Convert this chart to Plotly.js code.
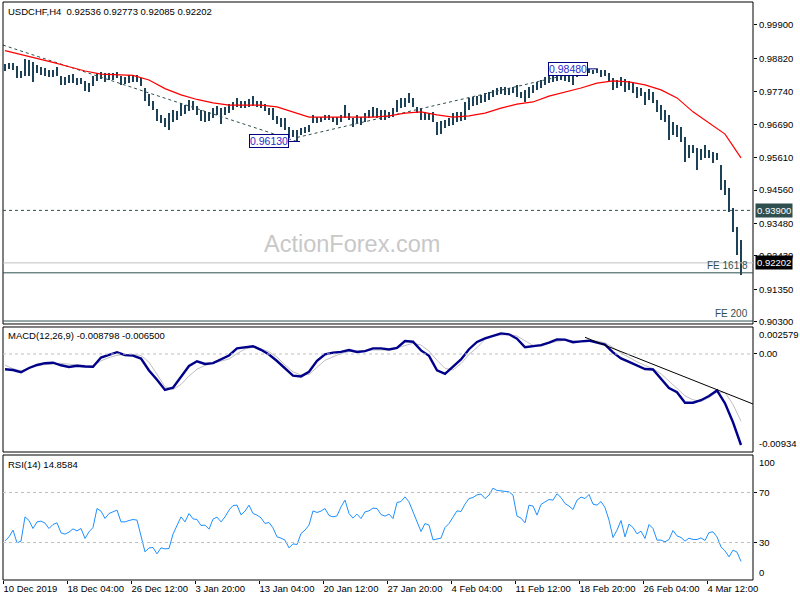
<!DOCTYPE html>
<html><head><meta charset="utf-8">
<script src="https://cdn.plot.ly/plotly-3.0.1.min.js"></script>
<style>html,body{margin:0;padding:0;background:#fff}#chart{width:800px;height:600px}</style>
</head><body><div id="chart"></div>
<script>
// ---------- data ----------
const symbolTitle = 'USDCHF,H4\u00a0\u00a00.92536 0.92773 0.92085 0.92202';
const macdTitle = 'MACD(12,26,9) -0.008798 -0.006500';
const rsiTitle = 'RSI(14) 14.8584';
const watermark = 'ActionForex.com';

const dateLabels = ['10 Dec 2019','18 Dec 04:00','26 Dec 12:00','3 Jan 20:00','13 Jan 04:00','20 Jan 12:00',
  '27 Jan 20:00','4 Feb 04:00','11 Feb 12:00','18 Feb 20:00','26 Feb 04:00','4 Mar 12:00'];
const barsPerLabel = 16;

const priceTicks = [0.999,0.9882,0.9774,0.9669,0.9561,0.9456,0.9348,0.9243,0.9135,0.903];

const highs = [
0.9864,0.9867,0.9867,0.9857,0.9841,0.9880,0.9877,0.9870,0.9861,0.9854,
0.9851,0.9844,0.9844,0.9854,0.9825,0.9822,0.9828,0.9831,0.9818,0.9818,
0.9809,0.9802,0.9825,0.9835,0.9838,0.9835,0.9835,0.9835,0.9838,0.9825,
0.9822,0.9828,0.9828,0.9828,0.9818,0.9786,0.9767,0.9744,0.9718,0.9699,
0.9689,0.9705,0.9715,0.9712,0.9738,0.9731,0.9747,0.9744,0.9728,0.9715,
0.9712,0.9709,0.9721,0.9728,0.9721,0.9725,0.9734,0.9741,0.9754,0.9744,
0.9744,0.9751,0.9760,0.9744,0.9744,0.9734,0.9721,0.9721,0.9696,0.9689,
0.9689,0.9660,0.9650,0.9650,0.9657,0.9660,0.9666,0.9699,0.9692,0.9692,
0.9699,0.9699,0.9692,0.9692,0.9699,0.9731,0.9705,0.9689,0.9699,0.9692,
0.9705,0.9715,0.9725,0.9721,0.9715,0.9715,0.9709,0.9721,0.9747,0.9754,
0.9754,0.9770,0.9754,0.9725,0.9721,0.9709,0.9705,0.9709,0.9676,0.9679,
0.9683,0.9689,0.9705,0.9709,0.9709,0.9741,0.9754,0.9757,0.9760,0.9764,
0.9770,0.9773,0.9780,0.9786,0.9789,0.9789,0.9786,0.9789,0.9796,0.9773,
0.9780,0.9789,0.9796,0.9806,0.9812,0.9822,0.9828,0.9835,0.9838,0.9838,
0.9835,0.9831,0.9828,0.9844,0.9848,0.9848,0.9848,0.9844,0.9848,0.9844,
0.9844,0.9835,0.9818,0.9812,0.9822,0.9815,0.9809,0.9802,0.9789,0.9786,
0.9773,0.9783,0.9773,0.9747,0.9731,0.9715,0.9699,0.9676,0.9666,0.9660,
0.9628,0.9602,0.9602,0.9592,0.9589,0.9602,0.9586,0.9579,0.9576,0.9537,
0.9488,0.9463,0.9398,0.9336,0.9294];

const lows = [
0.9841,0.9848,0.9844,0.9818,0.9818,0.9825,0.9825,0.9806,0.9835,0.9828,
0.9825,0.9822,0.9822,0.9825,0.9796,0.9796,0.9802,0.9802,0.9796,0.9799,
0.9776,0.9773,0.9793,0.9809,0.9815,0.9806,0.9812,0.9812,0.9818,0.9796,
0.9799,0.9802,0.9806,0.9806,0.9793,0.9744,0.9728,0.9715,0.9679,0.9673,
0.9660,0.9650,0.9676,0.9683,0.9696,0.9702,0.9712,0.9715,0.9699,0.9679,
0.9676,0.9679,0.9689,0.9699,0.9670,0.9699,0.9705,0.9715,0.9725,0.9721,
0.9721,0.9725,0.9728,0.9725,0.9721,0.9712,0.9699,0.9683,0.9670,0.9660,
0.9650,0.9624,0.9628,0.9613,0.9634,0.9641,0.9644,0.9673,0.9673,0.9676,
0.9683,0.9683,0.9676,0.9666,0.9676,0.9689,0.9683,0.9660,0.9673,0.9666,
0.9676,0.9689,0.9692,0.9689,0.9683,0.9683,0.9689,0.9692,0.9709,0.9721,
0.9725,0.9738,0.9725,0.9705,0.9683,0.9683,0.9683,0.9676,0.9634,0.9637,
0.9657,0.9663,0.9666,0.9676,0.9679,0.9683,0.9715,0.9728,0.9731,0.9738,
0.9741,0.9747,0.9757,0.9764,0.9767,0.9764,0.9764,0.9770,0.9757,0.9754,
0.9741,0.9754,0.9770,0.9780,0.9786,0.9796,0.9802,0.9806,0.9809,0.9812,
0.9809,0.9806,0.9796,0.9822,0.9828,0.9831,0.9835,0.9831,0.9835,0.9822,
0.9825,0.9809,0.9780,0.9786,0.9793,0.9773,0.9780,0.9770,0.9754,0.9760,
0.9731,0.9747,0.9738,0.9709,0.9683,0.9676,0.9618,0.9634,0.9628,0.9611,
0.9547,0.9560,0.9576,0.9521,0.9553,0.9560,0.9560,0.9543,0.9553,0.9456,
0.9440,0.9385,0.9320,0.9246,0.9181];

// moving average, read every 4th bar
const maStep = 4;
const maValues = [
0.9907,0.9895,0.9882,0.9869,0.9855,0.9841,0.9831,0.9828,0.9827,0.9812,
0.9784,0.9764,0.9749,0.9738,0.9731,0.9731,0.9731,0.9725,0.9709,0.9692,
0.9692,0.9692,0.9692,0.9692,0.9696,0.9705,0.9709,0.9699,0.9692,0.9696,
0.9705,0.9721,0.9734,0.9741,0.9760,0.9773,0.9786,0.9802,0.9809,0.9806,
0.9796,0.9780,0.9754,0.9709,0.9673,0.9637,0.9560];

// MACD main / signal, read every 2nd bar
const macdStep = 2;
const macdValues = [
-0.001480,-0.001547,-0.001760,-0.001354,-0.001064,-0.000890,-0.000841,-0.001093,-0.001257,-0.001131,
-0.001209,-0.001228,-0.000338,-0.000116,0.000174,-0.000106,-0.000155,-0.000435,-0.001596,-0.002495,
-0.003481,-0.003259,-0.002224,-0.001160,-0.000706,-0.000967,-0.000890,-0.000513,-0.000145,0.000551,
0.000638,0.000754,0.000406,-0.000048,-0.000677,-0.001392,-0.002098,-0.002166,-0.001721,-0.000658,
-0.000039,0.000126,0.000203,0.000387,0.000193,0.000280,0.000542,0.000542,0.000435,0.000580,
0.001257,0.001189,0.000348,-0.000174,-0.001576,-0.001924,-0.001189,-0.000522,0.000464,0.001170,
0.001518,0.001760,0.001992,0.001905,0.001480,0.000648,0.000774,0.000851,0.001102,0.001402,
0.001392,0.001141,0.001218,0.001286,0.001093,0.000909,0.000155,-0.000425,-0.000754,-0.001073,
-0.001451,-0.001499,-0.002340,-0.003288,-0.003704,-0.004709,-0.004709,-0.004468,-0.004061,-0.003520,
-0.004767,-0.006605,-0.008798];
const signalValues = [
-0.001083,-0.001421,-0.001625,-0.001392,-0.001151,-0.001025,-0.000928,-0.000899,-0.000986,-0.001035,
-0.001102,-0.001160,-0.000658,-0.000348,-0.000126,-0.000048,-0.000058,-0.000145,-0.000793,-0.001915,
-0.003162,-0.003423,-0.002949,-0.002127,-0.001470,-0.001102,-0.000909,-0.000716,-0.000484,0.000029,
0.000484,0.000648,0.000503,0.000213,-0.000290,-0.001064,-0.001731,-0.002031,-0.001982,-0.001286,
-0.000609,-0.000271,0.000039,0.000242,0.000300,0.000348,0.000387,0.000387,0.000426,0.000590,
0.000793,0.001035,0.000861,0.000290,-0.000609,-0.001383,-0.001547,-0.000928,-0.000039,0.000619,
0.001412,0.001702,0.001837,0.001895,0.001741,0.001267,0.000822,0.000745,0.001035,0.001225,
0.001334,0.001276,0.001199,0.001305,0.001257,0.001074,0.000629,0.000097,-0.000367,-0.000754,
-0.001102,-0.001422,-0.001915,-0.002611,-0.003355,-0.004042,-0.004429,-0.004574,-0.004216,-0.003675,
-0.003723,-0.004883,-0.006500];

const rsiValues = [
31.3,34.5,39.9,29.7,31.1,50.5,47.6,41.2,46.5,47.1,
45.5,41.2,44.4,45.7,37.7,36.7,38.3,40.9,39.3,41.2,
33.2,38.5,42.0,57.2,55.1,49.2,53.2,54.5,55.9,46.5,
46.5,47.6,48.4,47.9,34.5,22.5,25.7,26.0,20.9,25.7,
24.9,25.2,36.7,43.1,50.5,46.5,53.2,48.9,48.4,43.6,
43.9,40.7,48.7,50.3,46.5,50.5,55.9,59.6,59.9,52.1,
55.1,59.9,53.2,51.9,49.7,45.2,46.0,41.7,34.5,33.5,
31.9,25.7,28.9,28.4,37.2,39.9,43.9,55.3,54.0,55.1,
57.2,51.6,50.5,51.3,58.5,63.9,53.2,49.5,52.7,49.2,
54.5,55.3,57.5,57.2,52.4,51.1,52.7,49.2,62.0,62.8,
66.5,62.5,54.8,47.9,38.8,45.2,43.9,32.1,32.9,33.5,
42.0,45.2,50.3,55.3,54.8,60.7,65.2,66.0,68.1,68.7,
65.2,67.9,73.5,71.6,71.3,71.1,70.5,67.9,51.1,49.5,
45.7,59.9,59.1,51.9,60.4,62.5,64.4,63.9,69.0,66.0,
61.2,59.1,56.4,63.9,66.3,65.2,68.4,60.7,59.9,62.8,
58.0,47.9,34.0,39.9,47.6,34.5,44.7,42.0,36.9,39.1,
33.2,44.4,41.2,31.9,31.9,30.5,32.4,39.6,35.3,34.0,
31.1,33.5,32.4,32.4,33.7,31.6,38.0,38.5,34.5,26.5,
23.3,18.5,23.9,22.3,14.9];

// trend lines (bar index, price/value)
const trendDownIdx = [-0.5, 73];      const trendDownPx = [0.9925, 0.9613];
const trendUpIdx   = [73, 146.25];    const trendUpPx   = [0.9626, 0.9846];
const macdTrendIdx = [145, 187];      const macdTrendVal = [0.001615, -0.004835];

// marked swing points
const swingLabels = ['0.96130', '0.98480'];
const swingPrices = [0.9613, 0.9848];
const swingIdx    = [71, 145.75];
const swingTo     = [73.75, 148.25];

// horizontal levels
const supportLevel = 0.939;
const bidPrice = 0.92202;
const feLevels = [0.9188, 0.9032];
const feLabels = ['FE 161.8', 'FE 200'];
const macdMax = 0.002579, macdMin = -0.00934;
const rsiLevels = [70, 30];

// ---------- build ----------
const FONT = 'Liberation Sans, Arial, sans-serif';
const idx = highs.map((_, i) => i);
const maIdx = maValues.map((_, k) => k * maStep);
const macdIdx = macdValues.map((_, k) => k * macdStep);
const tickIdx = dateLabels.map((_, k) => -0.5 + barsPerLabel * k);

const traces = [
  {type:'bar', x: idx, base: lows, y: highs.map((h, i) => h - lows[i]), width: 0.5,
   marker:{color:'#1d4157', line:{width:0}}, xaxis:'x', yaxis:'y', hoverinfo:'skip'},
  {type:'scatter', mode:'lines', x: trendDownIdx, y: trendDownPx, line:{color:'#2f4f4f', width:1, dash:'3px,3px'}, xaxis:'x', yaxis:'y'},
  {type:'scatter', mode:'lines', x: trendUpIdx, y: trendUpPx, line:{color:'#2f4f4f', width:1, dash:'3px,3px'}, xaxis:'x', yaxis:'y'},
  {type:'scatter', mode:'lines', x: maIdx, y: maValues, line:{color:'#ff0000', width:1.2}, xaxis:'x', yaxis:'y'},
  {type:'scatter', mode:'lines', x: macdIdx, y: signalValues, line:{color:'#c0c0c0', width:1}, xaxis:'x', yaxis:'y2'},
  {type:'scatter', mode:'lines', x: macdIdx, y: macdValues, line:{color:'#00008b', width:2.4}, xaxis:'x', yaxis:'y2'},
  {type:'scatter', mode:'lines', x: macdTrendIdx, y: macdTrendVal, line:{color:'#000000', width:1}, xaxis:'x', yaxis:'y2'},
  {type:'scatter', mode:'lines', x: idx, y: rsiValues, line:{color:'#1e90ff', width:1}, xaxis:'x', yaxis:'y3'}
];

const shapes = [];
['y', 'y2', 'y3'].forEach(a => shapes.push({type:'rect', xref:'paper', x0:0, x1:1, yref:a + ' domain', y0:0, y1:1,
  line:{color:'#000', width:1}, fillcolor:'rgba(0,0,0,0)'}));
shapes.push({type:'line', xref:'paper', x0:0, x1:1, yref:'y', y0:supportLevel, y1:supportLevel, line:{color:'#2f4f4f', width:1, dash:'3px,3px'}});
shapes.push({type:'line', xref:'paper', x0:0, x1:1, yref:'y', y0:bidPrice, y1:bidPrice, line:{color:'#c0c0c0', width:1}});
feLevels.forEach(v => shapes.push({type:'line', xref:'paper', x0:0, x1:1, yref:'y', y0:v, y1:v, line:{color:'#2f4f4f', width:1}}));
shapes.push({type:'line', xref:'paper', x0:0, x1:1, yref:'y2', y0:0, y1:0, line:{color:'#c0c0c0', width:1, dash:'3px,3px'}});
rsiLevels.forEach(v => shapes.push({type:'line', xref:'paper', x0:0, x1:1, yref:'y3', y0:v, y1:v, line:{color:'#c0c0c0', width:1, dash:'3px,3px'}}));
swingPrices.forEach((p, k) => shapes.push({type:'line', xref:'x', yref:'y', x0:swingIdx[k], x1:swingTo[k], y0:p, y1:p, line:{color:'#000080', width:1}}));

const ann = [];
const txt = (o) => ann.push(Object.assign({showarrow:false, font:{family:FONT, size:9.5, color:'#000'}}, o));
txt({text:symbolTitle, xref:'x domain', x:0, xanchor:'left', xshift:3, yref:'y domain', y:1, yanchor:'top', yshift:-2});
txt({text:macdTitle, xref:'x domain', x:0, xanchor:'left', xshift:3, yref:'y2 domain', y:1, yanchor:'top', yshift:-1});
txt({text:rsiTitle, xref:'x domain', x:0, xanchor:'left', xshift:3, yref:'y3 domain', y:1, yanchor:'top', yshift:-2});
txt({text:watermark, xref:'x domain', x:0.4653, xanchor:'center', yref:'y domain', y:0.2484, yanchor:'middle',
     font:{family:FONT, size:23.5, color:'#c8c8c8'}});
swingPrices.forEach((p, k) => txt({text:swingLabels[k], xref:'x', x:swingIdx[k], xanchor:'right', yref:'y', y:p, yanchor:'middle',
     bordercolor:'#000080', borderwidth:1, borderpad:0, bgcolor:'#fff', font:{family:FONT, size:10.5, color:'#2b2bcc'}}));
feLevels.forEach((v, k) => txt({text:feLabels[k], xref:'paper', x:1, xanchor:'right', xshift:-3, yref:'y', y:v, yanchor:'bottom',
     font:{family:FONT, size:10, color:'#2f4f4f'}}));
txt({text:supportLevel.toFixed(5), xref:'paper', x:1, xanchor:'left', xshift:2, yref:'y', y:supportLevel, yanchor:'middle',
     bgcolor:'#2f4f4f', borderpad:1, font:{family:FONT, size:9.5, color:'#fff'}});
txt({text:bidPrice.toFixed(5), xref:'paper', x:1, xanchor:'left', xshift:2, yref:'y', y:bidPrice, yanchor:'middle',
     bgcolor:'#000', borderpad:1, font:{family:FONT, size:9.5, color:'#fff'}});
txt({text:String(macdMax), xref:'paper', x:1, xanchor:'left', xshift:4, yref:'y2', y:macdMax, yanchor:'top'});
txt({text:String(macdMin), xref:'paper', x:1, xanchor:'left', xshift:4, yref:'y2', y:macdMin, yanchor:'bottom'});
txt({text:'100', xref:'paper', x:1, xanchor:'left', xshift:4, yref:'y3', y:100, yanchor:'top'});
txt({text:'0', xref:'paper', x:1, xanchor:'left', xshift:4, yref:'y3', y:0, yanchor:'bottom'});

const yBase = {side:'right', anchor:'x', showgrid:false, zeroline:false, showline:false, ticks:'outside', ticklen:3,
  tickcolor:'#000', tickfont:{family:FONT, size:9.5, color:'#000'}, fixedrange:true};

const layout = {
  width:800, height:600, margin:{l:3, r:47, t:2, b:20}, paper_bgcolor:'#fff', plot_bgcolor:'#fff',
  showlegend:false, hovermode:false, bargap:0,
  font:{family:FONT, size:9.5, color:'#000'},
  xaxis:{range:[-0.5, 187], anchor:'y3', tickmode:'array', tickvals:tickIdx, ticktext:dateLabels, tickangle:0,
    ticks:'outside', ticklen:3, tickcolor:'#000', ticklabelposition:'outside right', showgrid:false, zeroline:false,
    showline:false, automargin:false, tickfont:{family:FONT, size:9.5, color:'#000'}, fixedrange:true},
  yaxis:Object.assign({}, yBase, {domain:[0.44291, 1], range:[0.90224, 1.00644], tickmode:'array', tickvals:priceTicks, tickformat:'.5f'}),
  yaxis2:Object.assign({}, yBase, {domain:[0.22145, 0.43772], range:[-0.009477, 0.002611], tickmode:'array', tickvals:[0], ticktext:['0.00']}),
  yaxis3:Object.assign({}, yBase, {domain:[0, 0.21626], range:[0, 100], tickmode:'array', tickvals:rsiLevels}),
  shapes:shapes, annotations:ann
};

Plotly.newPlot('chart', traces, layout, {staticPlot:true, displayModeBar:false});
</script>
</body></html>
